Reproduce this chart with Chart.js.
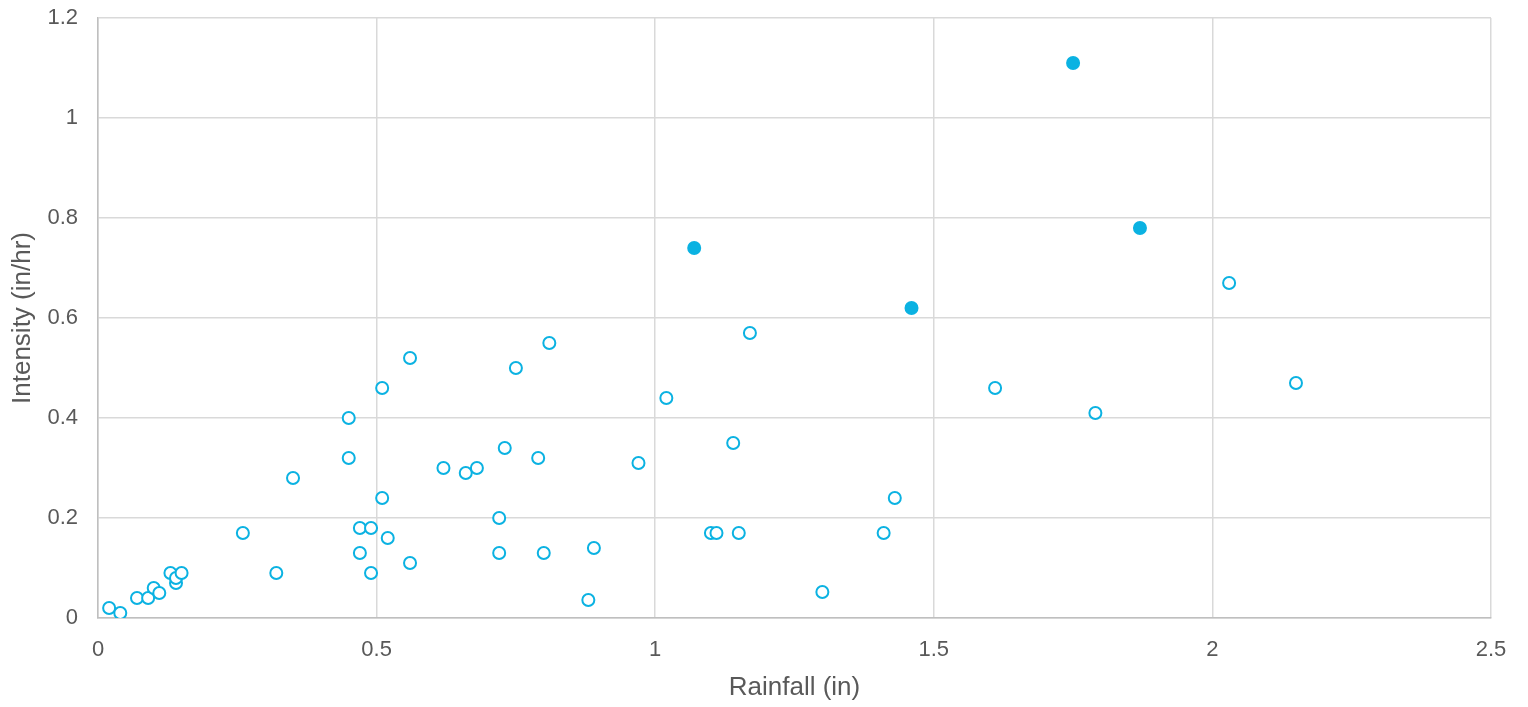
<!DOCTYPE html>
<html>
<head>
<meta charset="utf-8">
<script src="https://cdn.jsdelivr.net/npm/chart.js@4/dist/chart.umd.min.js"></script>
<style>
  html, body { margin: 0; padding: 0; background: #fff; }
  #wrap { width: 1528px; height: 707px; }
</style>
</head>
<body>
<div id="wrap"><canvas id="myChart" width="1528" height="707"></canvas></div>
<script>
// Rainfall (in) vs Intensity (in/hr)
const lluviaAbierta = [0.02, 0.04, 0.07, 0.09, 0.10, 0.11, 0.13, 0.14, 0.14, 0.15,
  0.26, 0.32, 0.35, 0.45, 0.45, 0.51, 0.56, 0.47, 0.49, 0.51, 0.52, 0.47, 0.49, 0.56,
  0.62, 0.66, 0.68, 0.73, 0.79, 0.75, 0.81, 0.72, 0.72, 0.80, 0.89, 0.88,
  0.97, 1.02, 1.17, 1.14, 1.10, 1.11, 1.15, 1.30, 1.41, 1.43, 1.61, 1.79, 2.03, 2.15];
const intensidadAbierta = [0.02, 0.01, 0.04, 0.04, 0.06, 0.05, 0.09, 0.07, 0.08, 0.09,
  0.17, 0.09, 0.28, 0.40, 0.32, 0.46, 0.52, 0.18, 0.18, 0.24, 0.16, 0.13, 0.09, 0.11,
  0.30, 0.29, 0.30, 0.34, 0.32, 0.50, 0.55, 0.20, 0.13, 0.13, 0.14, 0.036,
  0.31, 0.44, 0.57, 0.35, 0.17, 0.17, 0.17, 0.052, 0.17, 0.24, 0.46, 0.41, 0.67, 0.47];

const lluviaRellena = [1.07, 1.46, 1.75, 1.87];
const intensidadRellena = [0.74, 0.62, 1.11, 0.78];

const ticksX = [0, 0.5, 1, 1.5, 2, 2.5];
const ticksY = [0, 0.2, 0.4, 0.6, 0.8, 1, 1.2];

const azul = '#0bb2e2';
const gris = '#595959';
const fuente = 'Liberation Sans, Arial, sans-serif';

const aPuntos = (xs, ys) => xs.map((x, i) => ({ x: x, y: ys[i] }));

const ctx = document.getElementById('myChart');

new Chart(ctx, {
    type: 'scatter',
    data: {
        datasets: [{
            label: 'Eventos',
            data: aPuntos(lluviaAbierta, intensidadAbierta),
            backgroundColor: '#ffffff',
            borderColor: azul,
            borderWidth: 2,
            pointRadius: 6,
            pointHoverRadius: 6
        }, {
            label: 'Eventos destacados',
            data: aPuntos(lluviaRellena, intensidadRellena),
            backgroundColor: azul,
            borderColor: azul,
            borderWidth: 2,
            pointRadius: 6,
            pointHoverRadius: 6
        }]
    },
    options: {
        responsive: false,
        animation: false,
        layout: { padding: { top: 18, right: 37, left: 0, bottom: 0 } },
        plugins: {
            legend: { display: false },
            tooltip: { enabled: false }
        },
        scales: {
            x: {
                type: 'linear',
                min: 0,
                max: 2.5,
                afterBuildTicks: (scale) => { scale.ticks = ticksX.map(v => ({ value: v })); },
                afterFit: (scale) => {
                    scale.height = 707 - 618;
                    scale.paddingLeft = 0;
                    scale.paddingRight = 0;
                },
                grid: { color: '#d9d9d9', lineWidth: 1.5, drawTicks: false },
                border: { color: '#bfbfbf', width: 1.5 },
                ticks: {
                    color: gris,
                    padding: 19,
                    font: { family: fuente, size: 22 },
                    callback: (v) => String(v)
                },
                title: {
                    display: true,
                    text: 'Rainfall (in)',
                    color: gris,
                    padding: { top: 6 },
                    font: { family: fuente, size: 26 }
                }
            },
            y: {
                type: 'linear',
                min: 0,
                max: 1.2,
                afterBuildTicks: (scale) => { scale.ticks = ticksY.map(v => ({ value: v })); },
                afterFit: (scale) => {
                    scale.width = 98;
                    scale.paddingTop = 0;
                    scale.paddingBottom = 0;
                },
                grid: { color: '#d9d9d9', lineWidth: 1.5, drawTicks: false },
                border: { color: '#bfbfbf', width: 1.5 },
                ticks: {
                    color: gris,
                    padding: 20,
                    font: { family: fuente, size: 22 },
                    callback: (v) => String(v)
                },
                title: {
                    display: true,
                    text: 'Intensity (in/hr)',
                    color: gris,
                    padding: { top: 7, bottom: 0 },
                    font: { family: fuente, size: 26 }
                }
            }
        }
    }
});
</script>
</body>
</html>
